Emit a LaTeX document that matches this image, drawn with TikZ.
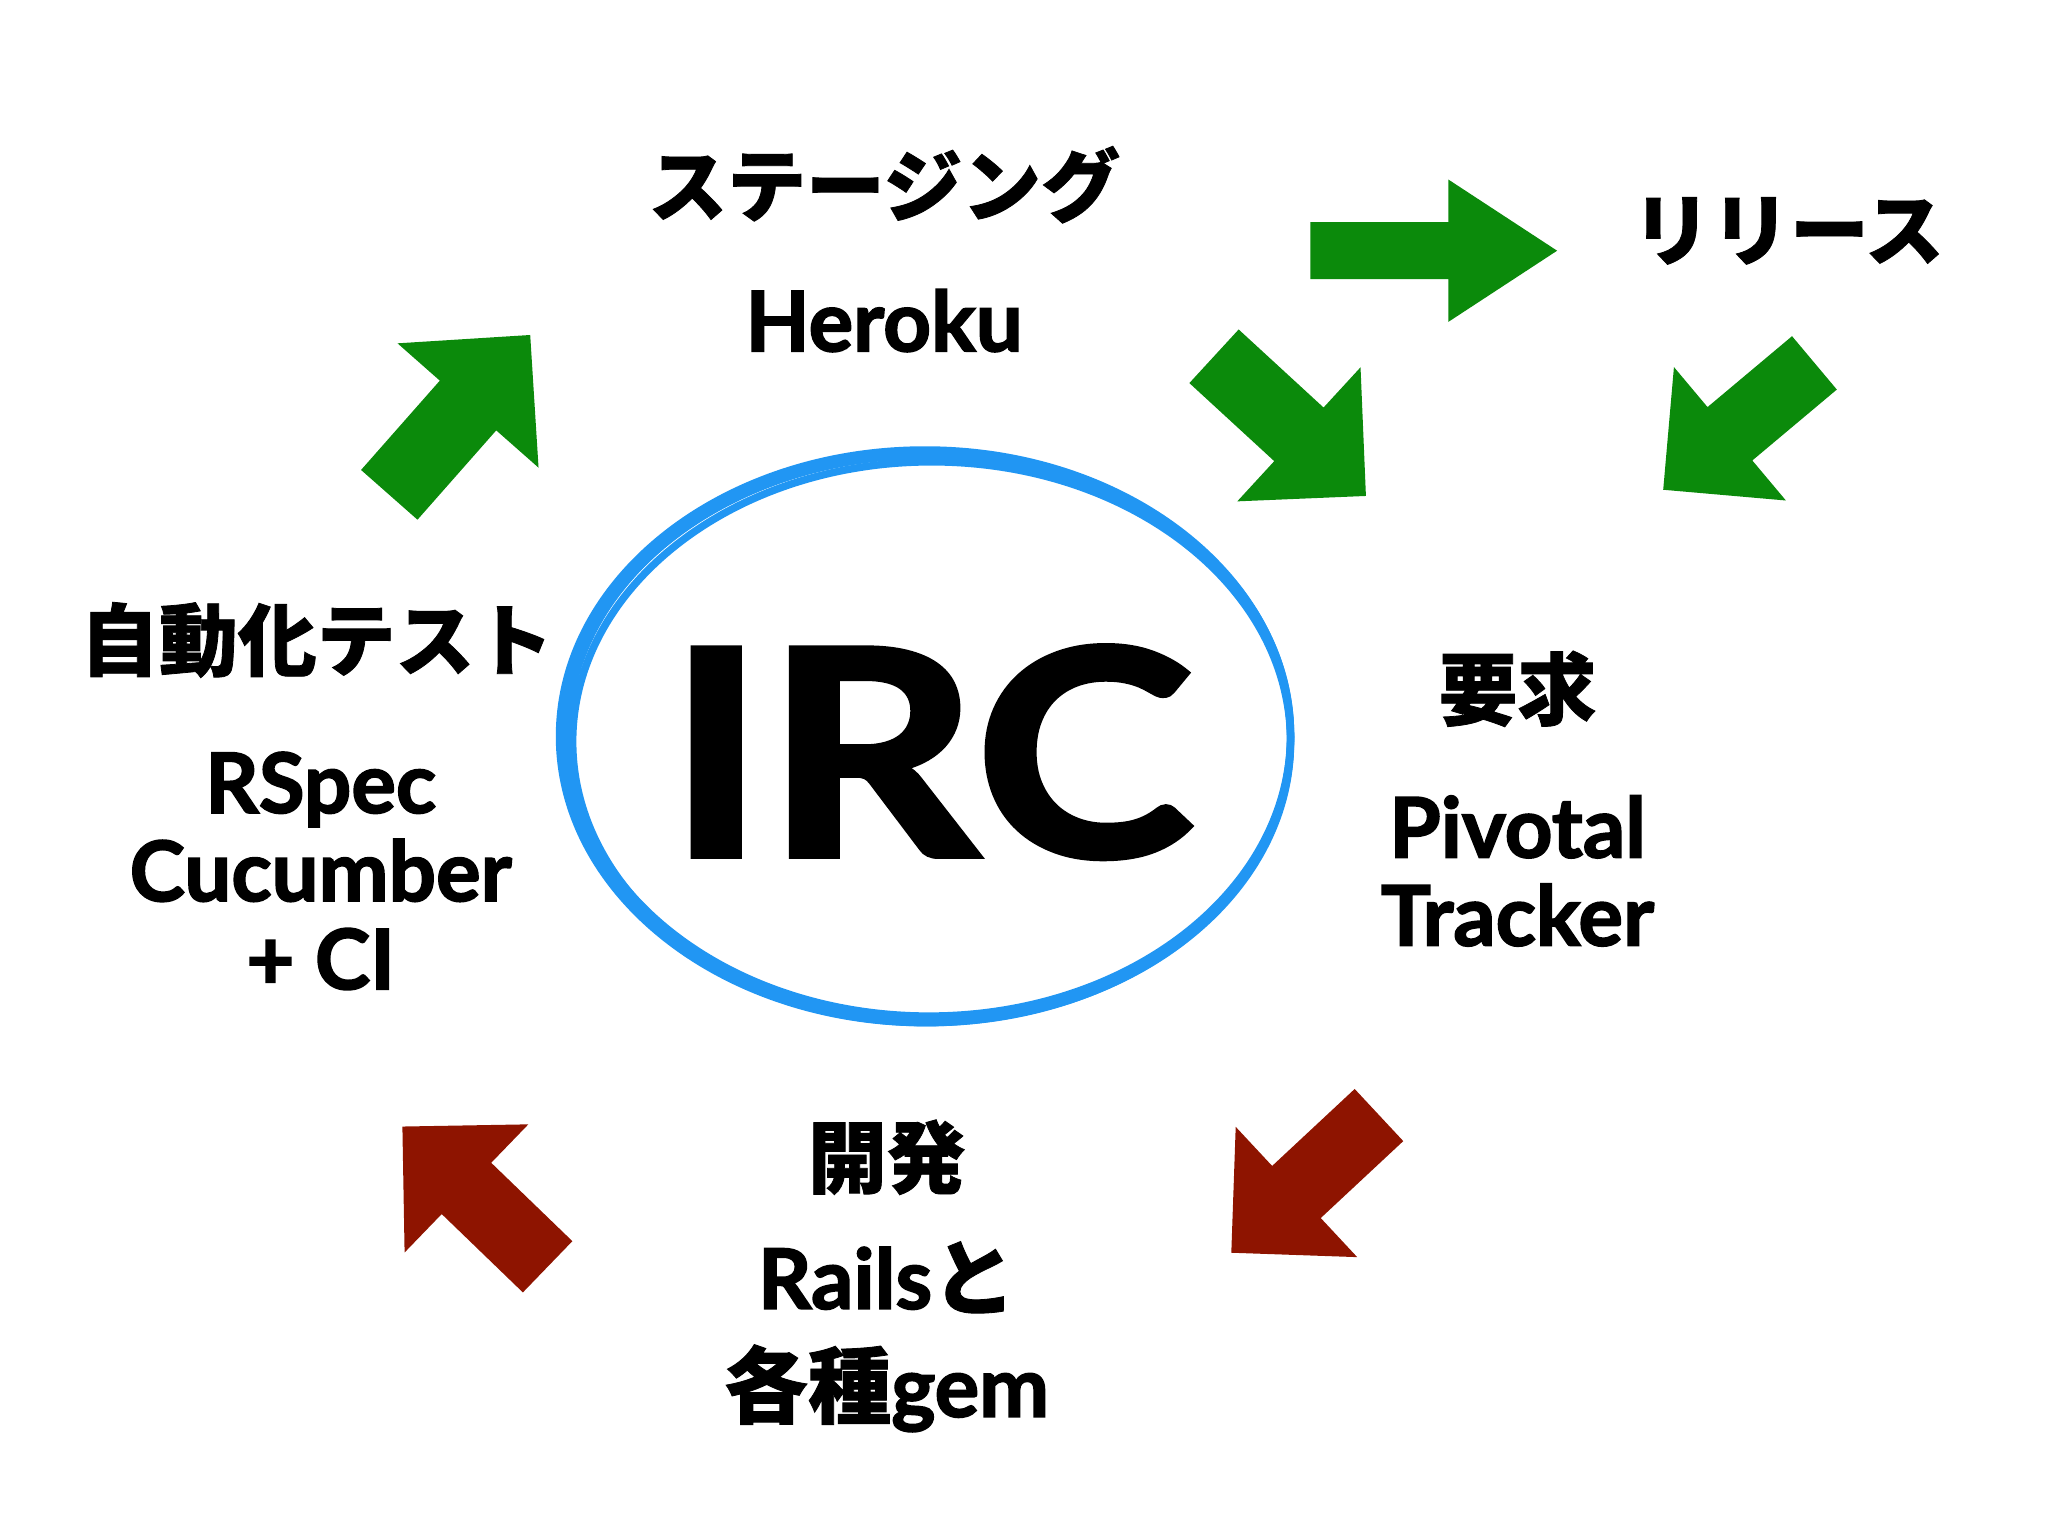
\documentclass[tikz,border=0pt]{standalone}
\usepackage{fontspec}
\setmainfont{Lato}[BoldFeatures={FakeBold=2}]
\newfontfamily\jp{Noto Sans CJK JP}[BoldFeatures={FakeBold=1}]
\definecolor{agreen}{HTML}{0B8A0B}
\definecolor{ared}{HTML}{8E1400}
\definecolor{ablue}{HTML}{2196F3}
\begin{document}
\begin{tikzpicture}
\useasboundingbox (0,0) rectangle (15.52,-11.64);
\tikzset{
 blk/.pic={\fill[pic actions] (0,-0.3)--(0.95,-0.3)--(0.95,-0.75)--(1.7,0)--(0.95,0.75)--(0.95,0.3)--(0,0.3)--cycle;},
 jt/.style={font=\jp\bfseries\fontsize{17}{20}\selectfont},
 lt/.style={font=\bfseries\fontsize{18}{21}\selectfont, align=center},
}
% arrows
\pic[fill=agreen, rotate=48.6, scale=0.95] at (2.95,-3.75) {blk};
\pic[fill=agreen, xscale=1.1, yscale=0.72] at (9.93,-1.9) {blk};
\pic[fill=agreen, rotate=-42.6, scale=0.92] at (9.2,-2.7) {blk};
\pic[fill=agreen, rotate=-140, scale=0.88] at (13.75,-2.75) {blk};
\pic[fill=ared, rotate=-137, scale=0.9] at (10.45,-8.45) {blk};
\pic[fill=ared, rotate=136, scale=0.9] at (4.15,-9.6) {blk};
% ellipse
\foreach \dx/\dy/\r/\s in {0/0/2.75/2.15, 0.03/-0.02/2.72/2.12, -0.02/0.02/2.77/2.17, 0.01/0.03/2.74/2.13}
  \draw[ablue, line width=1.6pt] (7.03+\dx,-5.6+\dy) ellipse [x radius=\r, y radius=\s];
\node[xscale=1.15] (irc) at (7.05,-5.7) {\bfseries\fontsize{62}{70}\selectfont IRC};
% texts
\node[jt] (stg) at (6.7,-1.4) {ステージング};
\node[lt] (her) at (6.7,-2.43) {Heroku};
\node[jt] (rel) at (13.55,-1.75) {リリース};
\node[jt] (aut) at (2.4,-4.85) {自動化テスト};
\node[lt] (rsp) at (2.43,-6.6) {RSpec\\[-2pt]Cucumber\\[-2pt]+ CI};
\node[jt] (req) at (11.5,-5.22) {要求};
\node[lt] (piv) at (11.5,-6.6) {Pivotal\\[-2pt]Tracker};
\node[jt] (dev) at (6.72,-8.77) {開発};
\node[lt] (rai) at (6.72,-9.68) {Rails{\jp\bfseries と}};
\node[lt] (gem) at (6.72,-10.52) {{\jp\bfseries 各種}gem};
\end{tikzpicture}
\end{document}
